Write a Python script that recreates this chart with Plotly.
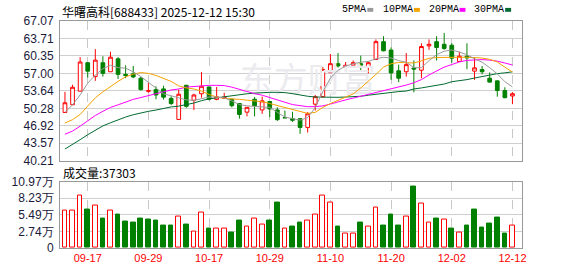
import plotly.graph_objects as go

dates = [
    "2025-09-12", "2025-09-15", "2025-09-16", "2025-09-17", "2025-09-18", "2025-09-19",
    "2025-09-22", "2025-09-23", "2025-09-24", "2025-09-25", "2025-09-26", "2025-09-29",
    "2025-09-30", "2025-10-09", "2025-10-10", "2025-10-13", "2025-10-14", "2025-10-15",
    "2025-10-16", "2025-10-17", "2025-10-20", "2025-10-21", "2025-10-22", "2025-10-23",
    "2025-10-24", "2025-10-27", "2025-10-28", "2025-10-29", "2025-10-30", "2025-10-31",
    "2025-11-03", "2025-11-04", "2025-11-05", "2025-11-06", "2025-11-07", "2025-11-10",
    "2025-11-11", "2025-11-12", "2025-11-13", "2025-11-14", "2025-11-17", "2025-11-18",
    "2025-11-19", "2025-11-20", "2025-11-21", "2025-11-24", "2025-11-25", "2025-11-26",
    "2025-11-27", "2025-11-28", "2025-12-01", "2025-12-02", "2025-12-03", "2025-12-04",
    "2025-12-05", "2025-12-08", "2025-12-09", "2025-12-10", "2025-12-11", "2025-12-12",
]

opens = [49.48, 50.97, 53.58, 59.05, 56.38, 59.05, 57.31, 59.80, 56.81, 56.94,
         56.07, 53.55, 53.88, 54.01, 52.19, 48.14, 54.70, 51.83, 53.08, 54.39,
         52.00, 52.20, 52.02, 51.21, 49.54, 52.02, 49.97, 51.59, 49.97, 48.50,
         48.29, 48.29, 46.61, 51.08, 52.52, 57.13, 58.86, 58.25, 58.55, 58.86,
         58.25, 59.66, 63.10, 61.48, 57.50, 57.31, 58.02, 57.61, 62.28, 63.10,
         62.59, 62.41, 59.29, 60.30, 57.43, 57.74, 56.07, 55.56, 53.70, 52.65]
highs = [53.45, 54.82, 60.11, 59.14, 61.66, 60.30, 61.16, 60.11, 58.55, 58.43,
         56.38, 55.13, 54.52, 54.63, 52.61, 53.88, 54.82, 53.08, 57.25, 54.45,
         54.39, 53.27, 52.15, 51.31, 50.50, 52.46, 52.52, 51.68, 50.47, 49.85,
         49.63, 48.32, 49.54, 52.84, 58.25, 60.73, 60.91, 59.18, 59.48, 60.41,
         59.29, 63.53, 64.14, 61.98, 58.68, 60.91, 59.48, 62.78, 63.53, 64.14,
         64.78, 62.78, 61.16, 62.78, 60.11, 58.43, 57.18, 55.60, 54.33, 53.40]
lows = [49.40, 50.90, 53.55, 56.20, 55.56, 56.38, 57.28, 55.93, 56.07, 56.07,
        53.70, 53.27, 52.02, 51.96, 50.88, 48.10, 50.38, 49.97, 52.33, 51.83,
        51.83, 52.10, 50.47, 48.29, 48.73, 48.73, 49.22, 48.60, 47.86, 48.42,
        47.67, 45.38, 45.62, 49.85, 52.33, 57.09, 58.12, 57.31, 58.53, 57.61,
        57.00, 59.61, 61.23, 55.75, 55.32, 56.38, 53.36, 56.07, 61.53, 59.48,
        61.53, 59.05, 59.25, 57.80, 55.75, 56.81, 55.26, 52.52, 52.20, 51.08]
closes = [51.35, 54.33, 59.18, 57.43, 59.55, 57.00, 60.11, 56.81, 56.57, 56.31,
          53.88, 53.65, 52.84, 52.43, 51.21, 52.99, 50.66, 52.84, 54.52, 52.02,
          52.50, 52.40, 50.79, 49.11, 50.47, 50.79, 51.72, 50.15, 48.10, 48.45,
          47.99, 46.61, 49.22, 52.52, 57.74, 58.86, 58.43, 58.55, 59.05, 58.55,
          59.05, 63.10, 61.34, 57.09, 56.07, 58.68, 57.84, 62.16, 62.59, 61.98,
          61.79, 59.93, 60.30, 59.98, 58.06, 57.31, 55.32, 53.70, 52.33, 53.08]

ma5 = [49.5, 50.95, 52.85, 55.1, 56.7, 57.9, 58.55, 58.1, 58.0, 57.3,
       56.4, 55.3, 54.05, 53.05, 52.7, 52.3, 51.9, 51.8, 52.1, 52.45,
       52.45, 52.3, 51.7, 51.0, 50.75, 50.6, 50.55, 50.45, 49.55, 48.6,
       48.3, 48.0, 48.5, 50.4, 53.5, 56.1, 57.6, 58.4, 58.85, 59.15,
       59.3, 59.8, 60.1, 59.95, 59.45, 59.15, 58.1, 58.1, 59.45, 60.6,
       61.25, 61.5, 61.1, 60.6, 59.8, 59.15, 58.1, 56.9, 55.4, 54.4]
ma10 = [47.45, 48.1, 49.1, 50.75, 52.3, 53.45, 54.5, 55.45, 56.35, 56.85,
        57.15, 57.0, 56.6, 56.05, 55.45, 54.6, 54.2, 54.0, 53.6, 52.95,
        52.45, 52.2, 52.15, 52.0, 51.85, 51.7, 51.55, 51.2, 50.8, 50.35,
        50.0, 49.55, 49.3, 49.5, 50.45, 51.2, 51.85, 52.35, 53.05, 54.2,
        55.45, 56.8, 58.2, 58.85, 59.1, 59.05, 59.0, 59.4, 59.9, 60.05,
        60.1, 60.1, 60.1, 60.1, 60.05, 59.95, 59.7, 59.2, 58.2, 57.25]
ma20 = [45.3, 45.9, 46.85, 47.85, 48.9, 49.7, 50.45, 50.95, 51.55, 52.0,
        52.35, 52.75, 53.1, 53.45, 53.8, 54.0, 54.35, 54.5, 54.65, 54.7,
        54.7, 54.65, 54.35, 53.9, 53.45, 53.1, 52.8, 52.4, 52.0, 51.45,
        51.0, 50.75, 50.6, 50.6, 50.75, 51.1, 51.55, 51.9, 52.25, 52.6,
        52.95, 53.3, 53.6, 53.95, 54.4, 54.75, 55.2, 55.8, 56.7, 57.5,
        58.2, 58.7, 59.2, 59.5, 59.6, 59.65, 59.55, 59.35, 59.0, 58.6]
ma30 = [42.45, 43.3, 44.25, 45.2, 46.1, 46.9, 47.5, 48.1, 48.6, 49.05,
        49.4, 49.7, 49.95, 50.25, 50.55, 50.7, 50.97, 51.3, 51.75, 52.1,
        52.3, 52.5, 52.8, 52.95, 53.08, 53.2, 53.3, 53.35, 53.35, 53.3,
        53.1, 52.8, 52.6, 52.45, 52.4, 52.4, 52.4, 52.45, 52.5, 52.6,
        52.8, 53.0, 53.2, 53.35, 53.5, 53.6, 54.0, 54.2, 54.45, 54.65,
        54.95, 55.4, 55.55, 55.8, 56.1, 56.4, 56.75, 56.95, 57.1, 57.3]

# volume in 万 shares, and colour direction as read (1 = red/up, 0 = green/down)
volumes = [6.20, 6.20, 8.58, 6.36, 7.00, 4.93, 6.20, 5.56, 4.35, 4.13,
           4.93, 4.77, 4.50, 3.66, 3.66, 5.25, 3.82, 2.70, 5.93, 3.18,
           3.18, 3.18, 2.54, 4.50, 3.60, 4.93, 3.82, 4.50, 7.52, 3.18,
           3.50, 4.13, 4.61, 5.56, 8.58, 7.58, 3.50, 2.39, 2.39, 4.13,
           3.60, 6.63, 3.71, 5.56, 3.71, 5.20, 10.18, 7.42, 4.24, 4.88,
           4.77, 3.18, 2.54, 3.71, 6.36, 3.34, 3.97, 5.09, 2.39, 3.7303]
vol_up = [1, 1, 1, 0, 1, 0, 1, 0, 0, 0, 0, 0, 0, 0, 0, 1, 0, 1, 1, 0,
          1, 1, 0, 0, 1, 1, 1, 0, 0, 1, 0, 0, 1, 1, 1, 1, 0, 1, 1, 0,
          1, 1, 0, 0, 0, 1, 0, 1, 1, 0, 1, 0, 1, 0, 0, 0, 0, 0, 0, 1]

tick_dates = ["2025-09-17", "2025-09-29", "2025-10-17", "2025-10-29",
              "2025-11-10", "2025-11-20", "2025-12-02", "2025-12-12"]
tick_text = [d[5:] for d in tick_dates]
price_ticks = [40.21, 43.57, 46.92, 50.28, 53.64, 57.00, 60.35, 63.71, 67.07]
vol_ticks = [0, 2.74, 5.49, 8.23, 10.97]
vol_tick_text = ["0", "2.74万", "5.49万", "8.23万", "10.97万"]

title_text = "华曙高科[688433] 2025-12-12 15:30"
vol_label = "成交量:37303"
ma_names = ["5PMA", "10PMA", "20PMA", "30PMA"]
ma_colors = ["#9a9a9a", "#f5a100", "#ff00ff", "#006a30"]

RED = "#ff0000"
GREEN = "#008000"

W, H = 578, 276
ML, MR, MT, MB = 56, 56, 21, 21
PW, PH = W - ML - MR, H - MT - MB


def px(x):
    return (x - ML) / PW


def py(y):
    return (H - MB - y) / PH


fig = go.Figure()

# watermark (drawn first so it stays beneath)
fig.add_trace(go.Scatter(
    x=[dates[32]], y=[55.1], mode="text", text=["东方财富"],
    textfont=dict(size=34, color="#ebebef", family="Noto Sans CJK SC"),
    hoverinfo="skip", showlegend=False, xaxis="x", yaxis="y"))

for vals, col in zip([ma30, ma20, ma10, ma5], ma_colors[::-1]):
    fig.add_trace(go.Scatter(
        x=dates, y=vals, mode="lines", line=dict(color=col, width=1),
        hoverinfo="skip", showlegend=False, xaxis="x", yaxis="y"))

fig.add_trace(go.Candlestick(
    x=dates, open=opens, high=highs, low=lows, close=closes,
    increasing=dict(line=dict(color=RED, width=1), fillcolor="#ffffff"),
    decreasing=dict(line=dict(color=GREEN, width=1), fillcolor=GREEN),
    whiskerwidth=0, showlegend=False, xaxis="x", yaxis="y"))

fig.add_trace(go.Bar(
    x=dates, y=volumes, width=0.62,
    marker=dict(color=["#ffffff" if u else GREEN for u in vol_up],
                line=dict(color=[RED if u else GREEN for u in vol_up], width=1)),
    showlegend=False, hoverinfo="skip", xaxis="x2", yaxis="y2"))

axis_common = dict(showline=True, mirror=True, linecolor="#999999", linewidth=1,
                   zeroline=False, ticks="")

main_bottom = py(165)
vol_top = py(186.5)

fig.update_layout(
    width=W, height=H,
    margin=dict(l=ML, r=MR, t=MT, b=MB, pad=0),
    paper_bgcolor="#ffffff", plot_bgcolor="#ffffff",
    showlegend=False,
    bargap=0,
    xaxis=dict(type="category", categoryorder="array", categoryarray=dates,
               range=[-0.654, 60.26], domain=[0, 1], anchor="y",
               tickvals=tick_dates, showticklabels=False,
               showgrid=True, gridcolor="#c8c8c8", griddash="dash", gridwidth=1,
               rangeslider=dict(visible=False), **axis_common),
    yaxis=dict(domain=[main_bottom, 1], range=[40.21, 67.07], anchor="x",
               tickvals=price_ticks, ticktext=["%.2f" % v for v in price_ticks],
               showgrid=True, gridcolor="#cfcfcf", gridwidth=1,
               tickfont=dict(family="Liberation Sans, Arial", size=12, color="#1a1a3a"),
               ticklabelstandoff=3, **axis_common),
    xaxis2=dict(type="category", categoryorder="array", categoryarray=dates,
                range=[-0.654, 60.26], domain=[0, 1], anchor="y2", matches="x",
                tickvals=tick_dates, ticktext=tick_text,
                tickfont=dict(family="Liberation Sans, Arial", size=11, color=RED),
                showgrid=True, gridcolor="#c8c8c8", griddash="dash", gridwidth=1,
                rangeslider=dict(visible=False), **axis_common),
    yaxis2=dict(domain=[0, vol_top], range=[0, 10.97], anchor="x2",
                tickvals=vol_ticks, ticktext=vol_tick_text,
                showgrid=True, gridcolor="#cfcfcf", gridwidth=1,
                tickfont=dict(family="Liberation Sans, Arial", size=12, color="#1a1a3a"),
                ticklabelstandoff=3, **axis_common),
)

annotations = [
    dict(text=title_text, x=px(56), y=py(11), xref="paper", yref="paper",
         xanchor="left", yanchor="middle", showarrow=False,
         font=dict(family="Noto Sans CJK SC", size=12, color="#000000")),
    dict(text=vol_label, x=px(57), y=py(177.5), xref="paper", yref="paper",
         xanchor="left", yanchor="middle", showarrow=False,
         font=dict(family="Noto Sans CJK SC", size=12, color="#000000")),
]
shapes = []
legend_x = [338, 380, 426, 472]
legend_sq = [366, 413, 459, 505]
for name, col, lx, sx in zip(ma_names, ma_colors, legend_x, legend_sq):
    annotations.append(dict(text=name, x=px(lx), y=py(9.5), xref="paper", yref="paper",
                            xanchor="left", yanchor="middle", showarrow=False,
                            font=dict(family="Liberation Mono", size=10, color="#000000")))
    shapes.append(dict(type="rect", xref="paper", yref="paper", layer="above",
                       x0=px(sx), x1=px(sx + 6), y0=py(11.5), y1=py(7.5),
                       fillcolor=col, line=dict(width=0)))

fig.update_layout(annotations=annotations, shapes=shapes)

fig.write_html("out.html")
